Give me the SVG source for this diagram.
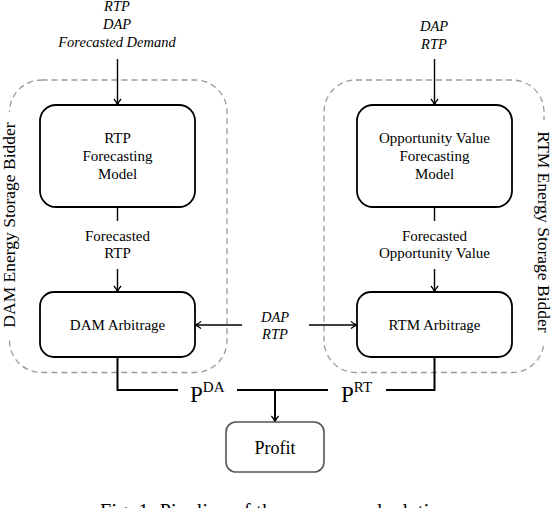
<svg xmlns="http://www.w3.org/2000/svg" width="554" height="508" viewBox="0 0 554 508">
<style>
.grp{fill:none;stroke:#9a9a9a;stroke-width:1.3;stroke-dasharray:6 4}
.box{fill:#fff;stroke:#000;stroke-width:1.8}
.pbox{fill:#fff;stroke:#555;stroke-width:1.6}
text{font-family:'Liberation Serif','DejaVu Serif',serif;fill:#000}
.t{font-size:15px;text-anchor:middle}
.i{font-style:italic;font-size:14.5px}
.side{font-size:17.5px}
.pl{font-size:23px;text-anchor:start}
.sup{font-size:15px}
.pf{font-size:18px}
.cap{font-size:20px;text-anchor:start}
.c{fill:none;stroke:#000;stroke-width:1.4}
.cb{stroke-width:2}
.w{fill:#fff;stroke:none}
</style>
<defs>
<marker id="ah" markerUnits="userSpaceOnUse" viewBox="-7 -5 8 10" refX="0" refY="0" markerWidth="8" markerHeight="10" orient="auto">
<path d="M-6,-3.6 C-4,-1.6 -1.5,-0.4 0,0 C-1.5,0.4 -4,1.6 -6,3.6" fill="none" stroke="#000" stroke-width="1.3"/>
</marker>
</defs>
<rect width="554" height="508" fill="#fff"/>

<g id="dam-bidder">
<rect class="grp" x="9.5" y="80" width="217.5" height="292.5" rx="32" ry="32"/>
<rect class="w" x="2" y="112" width="18" height="227"/>
<text class="t side" transform="translate(15,225) rotate(-90)">DAM Energy Storage Bidder</text>
</g>
<g id="rtm-bidder">
<rect class="grp" x="324" y="80" width="220" height="292.5" rx="32" ry="32"/>
<rect class="w" x="535" y="120" width="19" height="224"/>
<text class="t side" transform="translate(538,232) rotate(90)">RTM Energy Storage Bidder</text>
</g>

<g id="connectors">
<line class="c" x1="117.5" y1="59" x2="117.5" y2="105" marker-end="url(#ah)"/>
<line class="c" x1="434.5" y1="59" x2="434.5" y2="105" marker-end="url(#ah)"/>
<line class="c" x1="117.5" y1="207" x2="117.5" y2="221"/>
<line class="c" x1="434.5" y1="207" x2="434.5" y2="221"/>
<line class="c" x1="117.5" y1="269" x2="117.5" y2="292" marker-end="url(#ah)"/>
<line class="c" x1="434.5" y1="269" x2="434.5" y2="292" marker-end="url(#ah)"/>
<line class="c" x1="242" y1="325" x2="195" y2="325" marker-end="url(#ah)"/>
<line class="c" x1="309" y1="325" x2="357" y2="325" marker-end="url(#ah)"/>
<polyline class="c cb" points="117.5,357 117.5,390 178,390"/>
<line class="c cb" x1="237" y1="390" x2="328" y2="390"/>
<polyline class="c cb" points="386,390 434.5,390 434.5,357"/>
<line class="c cb" x1="275" y1="390" x2="275" y2="422" marker-end="url(#ah)"/>
<text class="t i" x="117" y="11">RTP</text>
<text class="t i" x="117" y="29">DAP</text>
<text class="t i" x="117" y="47">Forecasted Demand</text>
<text class="t i" x="434" y="31">DAP</text>
<text class="t i" x="434" y="49">RTP</text>
<text class="t" x="117.5" y="241">Forecasted</text>
<text class="t" x="117.5" y="258">RTP</text>
<text class="t" x="434.5" y="241">Forecasted</text>
<text class="t" x="434.5" y="258">Opportunity Value</text>
<text class="t i" x="275" y="322">DAP</text>
<text class="t i" x="275" y="339">RTP</text>
<text class="pl" x="190" y="402">P<tspan class="sup" dy="-10">DA</tspan></text>
<text class="pl" x="341" y="402">P<tspan class="sup" dy="-10">RT</tspan></text>
</g>

<g id="rtp-forecast">
<rect class="box" x="40" y="105" width="155" height="102" rx="16"/>
<text class="t" x="117.5" y="143">RTP</text>
<text class="t" x="117.5" y="161">Forecasting</text>
<text class="t" x="117.5" y="179">Model</text>
</g>
<g id="ov-forecast">
<rect class="box" x="357" y="105" width="155" height="102" rx="16"/>
<text class="t" x="434.5" y="143">Opportunity Value</text>
<text class="t" x="434.5" y="161">Forecasting</text>
<text class="t" x="434.5" y="179">Model</text>
</g>
<g id="dam-arb">
<rect class="box" x="40" y="292" width="155" height="65" rx="14"/>
<text class="t" x="117.5" y="330">DAM Arbitrage</text>
</g>
<g id="rtm-arb">
<rect class="box" x="357" y="292" width="155" height="65" rx="14"/>
<text class="t" x="434.5" y="330">RTM Arbitrage</text>
</g>
<g id="profit">
<rect class="pbox" x="226" y="422" width="98" height="50" rx="10"/>
<text class="t pf" x="275" y="454">Profit</text>
</g>

<text class="cap" x="100" y="518" textLength="350" lengthAdjust="spacing">Fig. 1. Pipeline of the revenue calculation</text>
</svg>
